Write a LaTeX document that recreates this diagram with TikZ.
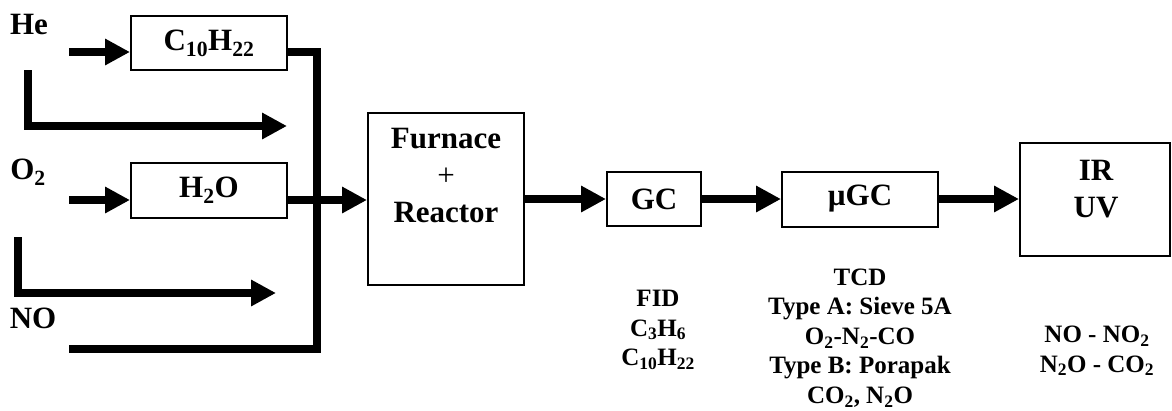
\documentclass[tikz,border=0pt]{standalone}
\usepackage{fontspec}
\setmainfont{Liberation Serif}
\usetikzlibrary{arrows.meta}
\newcommand\sbs[1]{\textsubscript{#1}}
\begin{document}
\begin{tikzpicture}[x=1pt,y=-1pt,
  main/.style={font=\fontsize{31}{37}\selectfont\bfseries, align=center, inner sep=0pt},
  small/.style={font=\fontsize{25}{29.5}\selectfont\bfseries, align=center, inner sep=0pt},
  box/.style={draw, line width=2pt, inner sep=0pt, font=\fontsize{31}{37}\selectfont\bfseries, align=center},
  pipe/.style={line width=8.5pt},
  flow/.style={pipe, -{Triangle[length=25pt,width=25pt]}}]
\useasboundingbox (0,0) rectangle (1172,410);
% labels of gases
\node[main] (he) at (29,24) {He};
\node[main] (o2) at (28,172) {O\sbs{2}};
\node[main] (no) at (33,318) {NO};
% saturator boxes
\node[box, minimum width=156pt, minimum height=54pt] (c10) at (209,43) {C\sbs{10}H\sbs{22}};
\node[box, minimum width=156pt, minimum height=55pt] (h2o) at (209,190.5) {H\sbs{2}O};
% main chain
\node[box, minimum width=156pt, minimum height=172pt] (furn) at (446,199) {};
\node[main] (furnt) at (446,175) {Furnace\\\textmd{+}\\Reactor};
\node[box, minimum width=94pt, minimum height=54pt] (gc) at (654,199) {GC};
\node[box, minimum width=156pt, minimum height=55pt] (ugc) at (860,199) {µGC};
\node[box, minimum width=150pt, minimum height=113pt] (ir) at (1095,199) {};
\node[main] (irt) at (1096,189) {IR\\UV};
% detector labels
\node[small] (fid) at (658,330) {FID\\C\sbs{3}H\sbs{6}\\C\sbs{10}H\sbs{22}};
\node[small] (tcd) at (860,338) {TCD\\Type A: Sieve 5A\\O\sbs{2}-N\sbs{2}-CO\\Type B: Porapak\\CO\sbs{2}, N\sbs{2}O};
\node[small] (irl) at (1097,351) {NO - NO\sbs{2}\\N\sbs{2}O - CO\sbs{2}};
% coordinates of feed lines
\coordinate (heS) at (69,52);
\coordinate (busT) at (317,52);
\coordinate (noS) at (69,349);
\coordinate (b1) at (28,70);
\coordinate (b1e) at (287,126);
\coordinate (o2S) at (69,200);
\coordinate (b2) at (18,237);
\coordinate (b2e) at (276,293);
% feed lines
\draw[flow] (heS) -- (heS -| c10.west);
\draw[pipe] (heS -| c10.east) -- (busT) -- (busT |- noS) -- (noS);
\draw[flow] (b1) |- (b1e);
\draw[flow] (o2S) -- (o2S -| h2o.west);
\draw[flow] (o2S -| h2o.east) -- (o2S -| furn.west);
\draw[flow] (b2) |- (b2e);
% chain arrows
\draw[flow] (furn.east) -- (gc.west);
\draw[flow] (gc.east) -- (ugc.west);
\draw[flow] (ugc.east) -- (ir.west);
\end{tikzpicture}
\end{document}
